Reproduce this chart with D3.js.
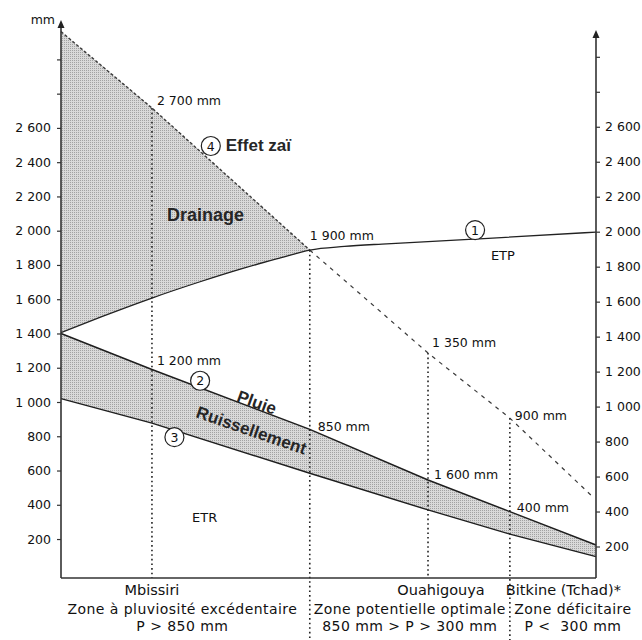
<!DOCTYPE html>
<html><head><meta charset="utf-8">
<script src="https://cdn.jsdelivr.net/npm/d3@7"></script>
<style>
body{margin:0;background:#fff}
svg{display:block}
.reg{font-family:"DejaVu Sans",sans-serif;fill:#111}
.bold{font-family:"Liberation Sans",Arial,sans-serif;font-weight:bold;fill:#262626}
</style>
</head><body>
<svg id="chart" width="642" height="640"></svg>
<script>
// ---------- DATA ----------
// x = position along the rainfall gradient (0 = wettest, 100 = driest), y = mm/an
const stationNames = ["Mbissiri", "Ouahigouya", "Bitkine (Tchad)*"];
const stationPos   = [17, 68.6, 83.9];
const optimumPos   = 46.5;            // P = 850 mm, fin du drainage

const etpPos = [0, 7.5, 17, 26, 34, 41, 46.5, 53, 60, 68.6, 77.4, 100];
const etpVal = [1405, 1497, 1607, 1702, 1780, 1841, 1887, 1908, 1922, 1936, 1951, 1992];

const pluiePos = [0, 17, 46.5, 68.6, 83.9, 100];
const pluieVal = [1400, 1190, 840, 545, 360, 165];

const ruissPos = [0, 17, 46.5, 68.6, 83.9, 100];
const ruissVal = [1020, 877, 584, 370, 229, 97];

const zaiPos = [0, 17, 46.5, 68.6, 83.9, 99.4];
const zaiVal = [3162, 2716, 1887, 1286, 906, 446];

const tickValues  = [200,400,600,800,1000,1200,1400,1600,1800,2000,2200,2400,2600,2800,3000];
const maxLabelled = 2600;

const valueLabels = [
  {text:"2 700 mm", line:"zai",   pos:17,   dx:5,  dy:-3},
  {text:"1 900 mm", line:"etp",   pos:46.5, dx:0,  dy:-10},
  {text:"1 350 mm", line:"zai",   pos:68.6, dx:4,  dy:-6},
  {text:"900 mm",   line:"zai",   pos:83.9, dx:5,  dy:2},
  {text:"1 200 mm", line:"pluie", pos:17,   dx:5,  dy:-4},
  {text:"850 mm",   line:"pluie", pos:46.5, dx:8,  dy:2},
  {text:"1 600 mm", line:"pluie", pos:68.6, dx:6,  dy:-1},
  {text:"400 mm",   line:"pluie", pos:83.9, dx:7,  dy:0}
];
const zoneLines1 = ["Zone à pluviosité excédentaire", "Zone potentielle optimale", "Zone déficitaire"];
const zoneLines2 = ["P > 850 mm", "850 mm > P > 300 mm", "P <\u00a0 300 mm"];

// ---------- LAYOUT ----------
const svg = d3.select("#chart");
const xL = 61, xR = 596, yB = 578;
const x  = d3.scaleLinear().domain([0, 100]).range([xL, xR]);
const y  = d3.scaleLinear().domain([0, 2000]).range([573.3, 230.7]);
const yR = d3.scaleLinear().domain([200, 2000]).range([546.5, 231.7]);

const etpAt   = d3.scaleLinear().domain(etpPos).range(etpVal);
const pluieAt = d3.scaleLinear().domain(pluiePos).range(pluieVal);
const ruissAt = d3.scaleLinear().domain(ruissPos).range(ruissVal);
const zaiAt   = d3.scaleLinear().domain(zaiPos).range(zaiVal);
const lineAt = {etp: etpAt, pluie: pluieAt, ruiss: ruissAt, zai: zaiAt};

const loc = d3.formatLocale({decimal:",", thousands:"\u00a0", grouping:[3], currency:["",""]});
const fmt = loc.format(",d");

// stipple pattern
const defs = svg.append("defs");
const pat = defs.append("pattern").attr("id","stip").attr("width",2).attr("height",2)
  .attr("patternUnits","userSpaceOnUse");
pat.append("rect").attr("width",2).attr("height",2).attr("fill","#d9d9d9");
pat.append("rect").attr("width",1).attr("height",1).attr("fill","#a2a2a2");

const etpCurve = d3.curveMonotoneX;

// drainage area (between effet zaï line and ETP)
const drainIdx = etpPos.map((p,i) => i).filter(i => etpPos[i] <= optimumPos);
svg.append("path")
  .attr("d", d3.area().x(i => x(etpPos[i])).y0(i => y(etpVal[i])).y1(i => y(zaiAt(etpPos[i])))
     .curve(etpCurve)(drainIdx))
  .attr("fill","url(#stip)");

// runoff band (between Pluie and ETR line)
svg.append("path")
  .attr("d", d3.area().x(p => x(p)).y0(p => y(ruissAt(p))).y1(p => y(pluieAt(p)))(pluiePos))
  .attr("fill","url(#stip)");

// vertical dotted lines
const verticals = [
  {pos: stationPos[0], from: zaiAt(stationPos[0]), to: yB},
  {pos: optimumPos,    from: etpAt(optimumPos),    to: 640},
  {pos: stationPos[1], from: zaiAt(stationPos[1]), to: yB},
  {pos: stationPos[2], from: zaiAt(stationPos[2]), to: 640}
];
svg.selectAll(".vdot").data(verticals).join("line")
  .attr("x1", d => x(d.pos)).attr("x2", d => x(d.pos))
  .attr("y1", d => y(d.from)).attr("y2", d => d.to)
  .attr("stroke","#222").attr("stroke-width",1.6).attr("stroke-dasharray","1.6,3");

// lines
const lineGen = fn => d3.line().x(p => x(p)).y(p => y(fn(p)));
const zaiIn  = zaiPos.filter(p => p <= optimumPos);
const zaiOut = zaiPos.filter(p => p >= optimumPos);
svg.append("path").attr("d", lineGen(zaiAt)(zaiIn))
  .attr("fill","none").attr("stroke","#3a3a3a").attr("stroke-width",1.4).attr("stroke-dasharray","3,2");
svg.append("path").attr("d", lineGen(zaiAt)(zaiOut))
  .attr("fill","none").attr("stroke","#3a3a3a").attr("stroke-width",1.2).attr("stroke-dasharray","4,5");
// ETP
svg.append("path")
  .attr("d", d3.line().x((p,i) => x(p)).y((p,i) => y(etpVal[i])).curve(etpCurve)(etpPos))
  .attr("fill","none").attr("stroke","#222").attr("stroke-width",1.3);
// Pluie
svg.append("path").attr("d", lineGen(pluieAt)(pluiePos))
  .attr("fill","none").attr("stroke","#1e1e1e").attr("stroke-width",1.5);
// Ruissellement / ETR boundary
svg.append("path").attr("d", lineGen(ruissAt)(ruissPos))
  .attr("fill","none").attr("stroke","#1e1e1e").attr("stroke-width",1.4);

// ---------- AXES ----------
const axL = svg.append("g").attr("transform",`translate(${xL},0)`)
  .call(d3.axisLeft(y).tickValues(tickValues).tickSize(4).tickPadding(6)
        .tickFormat(v => v <= maxLabelled ? fmt(v) : ""));
const axR = svg.append("g").attr("transform",`translate(${xR},0)`)
  .call(d3.axisRight(yR).tickValues(tickValues).tickSize(4).tickPadding(5)
        .tickFormat(v => v <= maxLabelled ? fmt(v) : ""));
[axL, axR].forEach(g => {
  g.select(".domain").remove();
  g.selectAll(".tick line").attr("stroke","#333").attr("stroke-width",1.2);
  g.selectAll(".tick text").attr("class","reg").style("font-size","12.5px").attr("fill","#111");
});
svg.append("line").attr("x1",xL).attr("x2",xL).attr("y1",26).attr("y2",yB)
  .attr("stroke","#333").attr("stroke-width",1.6);
svg.append("line").attr("x1",xR).attr("x2",xR).attr("y1",36).attr("y2",yB)
  .attr("stroke","#333").attr("stroke-width",1.6);
svg.append("line").attr("x1",xL).attr("x2",xR).attr("y1",yB).attr("y2",yB)
  .attr("stroke","#333").attr("stroke-width",1.5);
const arrow = (cx, cy) => svg.append("path")
  .attr("d", `M${cx},${cy} L${cx-3.5},${cy+8} L${cx+3.5},${cy+8} Z`).attr("fill","#222");
arrow(xL, 20); arrow(xR, 30);
svg.append("text").attr("class","reg").attr("x",55).attr("y",24)
  .attr("text-anchor","end").style("font-size","12.5px").text("mm");

// ---------- ANNOTATIONS ----------
svg.selectAll(".vlab").data(valueLabels).join("text")
  .attr("class","reg").style("font-size","12.5px")
  .attr("x", d => x(d.pos) + d.dx)
  .attr("y", d => y(lineAt[d.line](d.pos)) + d.dy)
  .text(d => d.text);

const circled = [
  {n:"1", cx: x(77.4), cy: y(etpAt(77.4)) - 9},
  {n:"2", cx: x(26),   cy: y(pluieAt(26)) - 7},
  {n:"3", cx: x(21.2), cy: y(ruissAt(21.2)) + 7},
  {n:"4", cx: x(28),   cy: y(zaiAt(28)) - 15}
];
const cg = svg.selectAll(".circ").data(circled).join("g")
  .attr("transform", d => `translate(${d.cx},${d.cy})`);
cg.append("circle").attr("r",9.5).attr("fill","#fff").attr("stroke","#222").attr("stroke-width",1.2);
cg.append("text").attr("class","reg").attr("text-anchor","middle").attr("dy","0.36em")
  .style("font-size","12.5px").text(d => d.n);

svg.append("text").attr("class","bold").attr("x", x(30.8)).attr("y", 151)
  .style("font-size","17px").text("Effet zaï");
svg.append("text").attr("class","bold").attr("x", x(19.8)).attr("y", 221)
  .style("font-size","18px").text("Drainage");
svg.append("text").attr("class","reg").attr("x", x(82.6)).attr("y", y(etpAt(82.6)) + 23)
  .attr("text-anchor","middle").style("font-size","13px").text("ETP");
svg.append("text").attr("class","reg").attr("x", x(24.5)).attr("y", 522)
  .style("font-size","13px").text("ETR");
svg.append("text").attr("class","bold").attr("text-anchor","middle")
  .attr("transform", `translate(${x(36.6)},${y(pluieAt(36.6)) - 7}) rotate(20)`)
  .attr("dy","0.35em").style("font-size","17px").text("Pluie");
svg.append("text").attr("class","bold").attr("text-anchor","middle")
  .attr("transform", `translate(${x(35.6)},${y(pluieAt(35.6)) + 23}) rotate(19)`)
  .attr("dy","0.35em").style("font-size","17px").text("Ruissellement");

// station names
const stationX = [x(stationPos[0]), x(stationPos[1]) + 13, x(stationPos[2]) - 4];
const stationAnchor = ["middle", "middle", "start"];
svg.selectAll(".st").data(stationNames).join("text").attr("class","reg")
  .attr("x", (d,i) => stationX[i]).attr("y", 595)
  .attr("text-anchor", (d,i) => stationAnchor[i]).style("font-size","14.5px").text(d => d);

// zones
const zoneBounds = [xL, x(optimumPos), x(stationPos[2]), 642];
const zoneCx = [0,1,2].map(i => (zoneBounds[i] + zoneBounds[i+1]) / 2 - (i === 1 ? 0 : 3));
svg.selectAll(".z1").data(zoneLines1).join("text").attr("class","reg")
  .attr("x",(d,i) => zoneCx[i]).attr("y",614).attr("text-anchor","middle")
  .style("font-size","14px").style("letter-spacing","0.45px").text(d => d);
svg.selectAll(".z2").data(zoneLines2).join("text").attr("class","reg")
  .attr("x",(d,i) => zoneCx[i]).attr("y",631).attr("text-anchor","middle")
  .style("font-size","14px").style("letter-spacing","0.45px").text(d => d);
</script>
</body></html>
